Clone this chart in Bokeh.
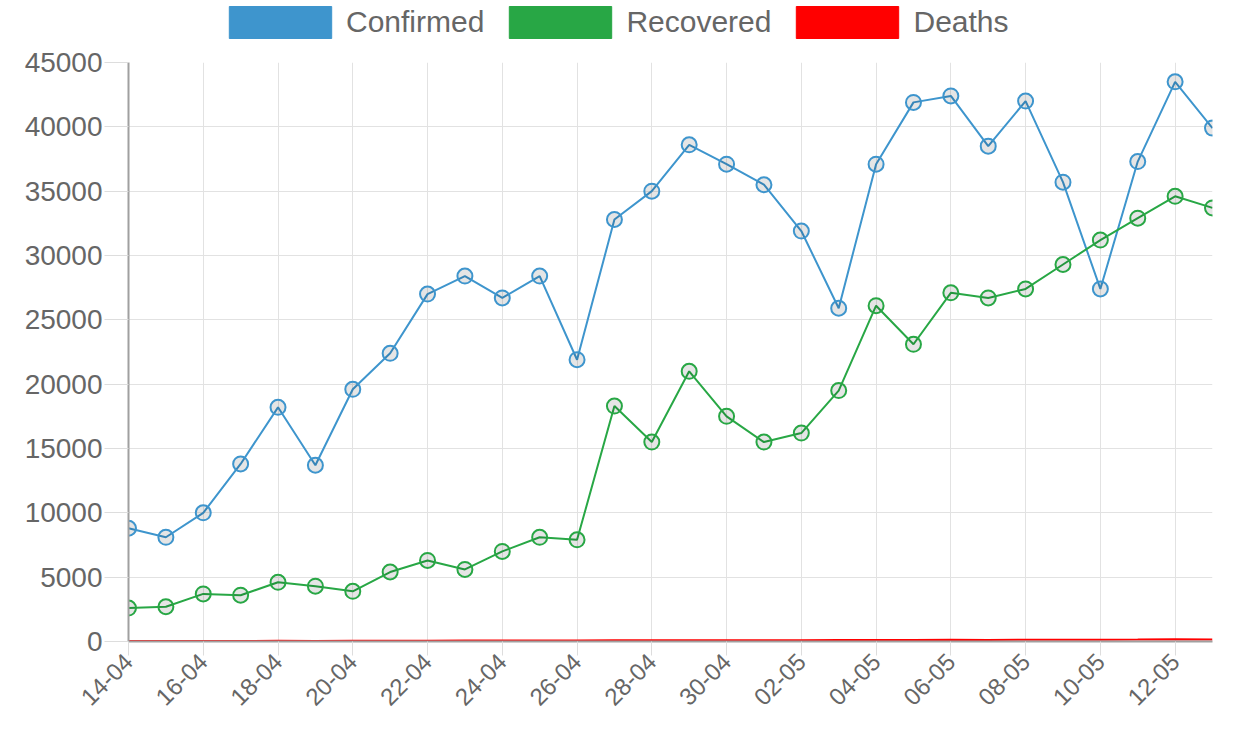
from bokeh.plotting import figure
from bokeh.layouts import column
from bokeh.models import Range1d, FixedTicker, Legend, LegendItem, ColumnDataSource
from bokeh.embed import file_html
from bokeh.resources import INLINE
import math

dates = ["14-04", "15-04", "16-04", "17-04", "18-04", "19-04", "20-04", "21-04",
         "22-04", "23-04", "24-04", "25-04", "26-04", "27-04", "28-04", "29-04",
         "30-04", "01-05", "02-05", "03-05", "04-05", "05-05", "06-05", "07-05",
         "08-05", "09-05", "10-05", "11-05", "12-05", "13-05"]
confirmed = [8800, 8100, 10000, 13800, 18200, 13700, 19600, 22400, 27000, 28400,
             26700, 28400, 21900, 32800, 35000, 38600, 37100, 35500, 31900, 25900,
             37100, 41900, 42400, 38500, 42000, 35700, 27400, 37300, 43500, 39900]
recovered = [2600, 2700, 3700, 3600, 4600, 4300, 3900, 5400, 6300, 5600,
             7000, 8100, 7900, 18300, 15500, 21000, 17500, 15500, 16200, 19500,
             26100, 23100, 27100, 26700, 27400, 29300, 31200, 32900, 34600, 33700]
deaths = [30, 35, 40, 45, 50, 45, 55, 60, 65, 70,
          75, 80, 70, 90, 95, 100, 105, 100, 95, 110,
          120, 125, 130, 120, 135, 130, 140, 150, 180, 160]
y_ticks = [0, 5000, 10000, 15000, 20000, 25000, 30000, 35000, 40000, 45000]
x_tick_idx = list(range(0, len(dates) - 1, 2))

series = [("Confirmed", confirmed, "#3e95cd", True),
          ("Recovered", recovered, "#28a745", True),
          ("Deaths", deaths, "#ff0000", False)]

x = list(range(len(dates)))
nan = float("nan")

# legend strip on top
lf = figure(width=1217, height=46, output_backend="svg", toolbar_location=None,
            x_range=Range1d(0, 1), y_range=Range1d(0, 1),
            x_axis_location=None, y_axis_location=None,
            min_border=0, min_border_left=0, min_border_right=0,
            min_border_top=0, min_border_bottom=0)
lf.outline_line_color = None
lf.xgrid.visible = False
lf.ygrid.visible = False

# main chart
p = figure(width=1217, height=669, output_backend="svg", toolbar_location=None,
           x_range=Range1d(0, len(dates) - 1), y_range=Range1d(0, 45000),
           min_border_left=128, min_border_right=5, min_border_top=16,
           min_border_bottom=74)
p.outline_line_color = None
p.background_fill_color = "white"
p.border_fill_color = "white"

items = []
for name, vals, col, markers in series:
    src = ColumnDataSource(dict(x=x, y=vals))
    p.line("x", "y", source=src, line_color=col, line_width=2)
    if markers:
        p.scatter("x", "y", source=src, size=15, line_color=col, line_width=2,
                  fill_color="black", fill_alpha=0.1)
    box = lf.quad(left=[nan], right=[nan], top=[nan], bottom=[nan],
                  fill_color=col, line_color=col)
    items.append(LegendItem(label=name, renderers=[box]))

legend = Legend(items=items, orientation="horizontal", location=(88, 4),
                glyph_width=128, glyph_height=40, label_standoff=2, spacing=12,
                padding=0, margin=0, border_line_color=None,
                background_fill_alpha=0,
                label_text_font="Liberation Sans", label_text_font_size="30px",
                label_text_color="#666666", label_height=40)
lf.add_layout(legend, "center")

p.xaxis.ticker = FixedTicker(ticks=x_tick_idx)
p.xaxis.major_label_overrides = {i: dates[i] for i in x_tick_idx}
p.xaxis.major_label_orientation = math.pi / 4
p.yaxis.ticker = FixedTicker(ticks=y_ticks)

for ax in (p.xaxis, p.yaxis):
    ax.major_label_text_font = "Liberation Sans"
    ax.major_label_text_color = "#666666"
    ax.axis_line_color = "#a0a0a0"
    ax.axis_line_width = 2
    ax.major_tick_line_color = "#dddddd"
    ax.major_tick_in = 0
    ax.minor_tick_line_color = None
    ax.major_label_standoff = 2

p.yaxis.major_tick_out = 24
p.xaxis.major_tick_out = 14
p.xaxis.major_label_text_font_size = "24px"
p.yaxis.major_label_text_font_size = "28px"

p.xgrid.grid_line_color = "#e2e2e2"
p.ygrid.grid_line_color = "#e2e2e2"
p.xgrid.ticker = FixedTicker(ticks=x_tick_idx)
p.ygrid.ticker = FixedTicker(ticks=y_ticks)

layout = column(lf, p, spacing=0)
open("out.html", "w").write(file_html(layout, INLINE))
